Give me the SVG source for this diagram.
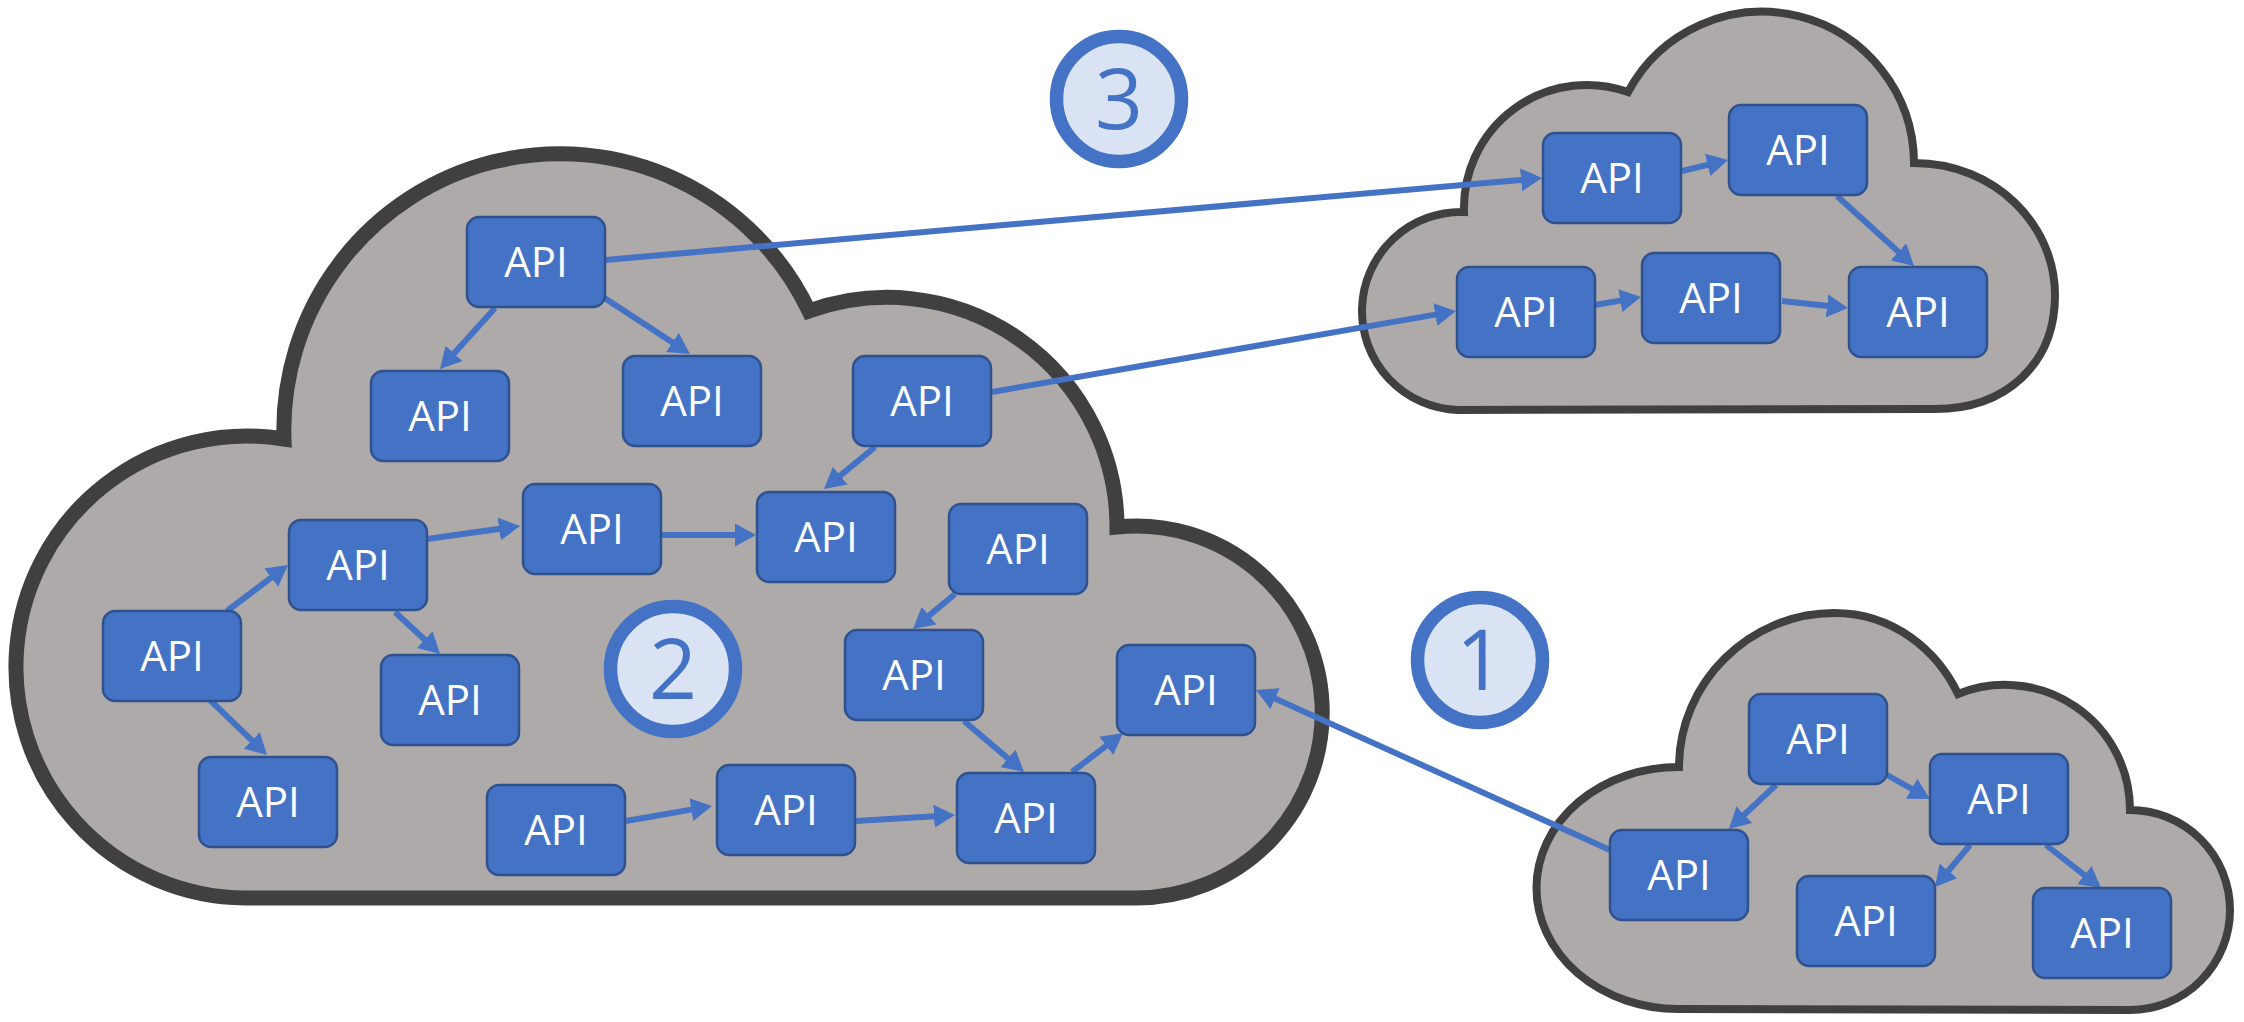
<svg xmlns="http://www.w3.org/2000/svg" width="2244" height="1022" viewBox="0 0 2244 1022">
<style>
.cloud{fill:#AEAAA9;stroke:#404040;stroke-linejoin:miter}
.big{stroke-width:15}
.small{stroke-width:8}
.node rect{fill:#4472C4;stroke:#2F528F;stroke-width:2.5}
.node text{fill:#FFFFFF;font-family:"Open Sans","Noto Sans","Liberation Sans",sans-serif;font-size:42px;text-anchor:middle}
.conn path{fill:none;stroke:#4472C4;stroke-width:6}
.badge circle{fill:#DAE3F3;stroke:#4472C4;stroke-width:13.5}
.badge text{fill:#4472C4;font-family:"Open Sans","Noto Sans","Liberation Sans",sans-serif;font-size:84px;text-anchor:middle}
</style>
<defs>
<marker id="arr" markerUnits="userSpaceOnUse" viewBox="0 0 21 23" refX="13" refY="11.5" markerWidth="21" markerHeight="23" orient="auto">
<path d="M0,0 L21,11.5 L0,23 z" fill="#4472C4"/>
</marker>
</defs>
<rect width="2244" height="1022" fill="#FFFFFF"/>
<g id="clouds">
<path id="cloud-main" class="cloud big" d="M245 898 A231 231 0 1 1 284 439 A276 276 0 0 1 809 311 A230 230 0 0 1 1117 527 A186 186 0 1 1 1135 898 Z"/>
<path id="cloud-top-right" class="cloud small" d="M1458 410 A99 99 0 0 1 1464 212 A123 123 0 0 1 1628 92 A152 152 0 0 1 1914 163 C1995 163 2055 225 2055 295 C2055 365 2005 409 1935 409 Z"/>
<path id="cloud-bottom-right" class="cloud small" d="M1678 1009 A142 121 0 0 1 1679 767 C1679 682 1750 613 1834 613 C1895 613 1938 652 1958 694 A125 125 0 0 1 2130 810 A100 100 0 0 1 2130 1010 Z"/>
</g>
<g id="connectors" class="conn">
<path d="M605 260 L1534 178.7" marker-end="url(#arr)"/>
<path d="M495 308 L445.4 363.1" marker-end="url(#arr)"/>
<path d="M603 297 L683.3 349.6" marker-end="url(#arr)"/>
<path d="M992 392 L1448.1 312.4" marker-end="url(#arr)"/>
<path d="M875 447 L830.2 483.9" marker-end="url(#arr)"/>
<path d="M661 535 L748 535" marker-end="url(#arr)"/>
<path d="M427 539 L512.1 527.1" marker-end="url(#arr)"/>
<path d="M395 612 L434.2 648.5" marker-end="url(#arr)"/>
<path d="M227 611 L281.6 569.8" marker-end="url(#arr)"/>
<path d="M210 700 L261.2 749.4" marker-end="url(#arr)"/>
<path d="M955 594 L919.1 623.9" marker-end="url(#arr)"/>
<path d="M964 721 L1017.9 766.8" marker-end="url(#arr)"/>
<path d="M1072 772 L1116.6 737.9" marker-end="url(#arr)"/>
<path d="M626 821 L704.1 807.4" marker-end="url(#arr)"/>
<path d="M856 821 L947 815.5" marker-end="url(#arr)"/>
<path d="M1610 850 L1263.3 693.3" marker-end="url(#arr)"/>
<path d="M1682 171 L1720.2 161.9" marker-end="url(#arr)"/>
<path d="M1837 196 L1908.1 260.6" marker-end="url(#arr)"/>
<path d="M1595 305 L1633.1 298.4" marker-end="url(#arr)"/>
<path d="M1782 301 L1840 307.2" marker-end="url(#arr)"/>
<path d="M1776 785 L1734.8 823.5" marker-end="url(#arr)"/>
<path d="M1887 775 L1923 795.1" marker-end="url(#arr)"/>
<path d="M1970 845 L1940.1 880.9" marker-end="url(#arr)"/>
<path d="M2046 845 L2094.7 883.1" marker-end="url(#arr)"/>
</g>
<g id="nodes">
<g id="api-a" class="node"><rect x="467" y="217" width="138" height="90" rx="12"/><text x="536" y="277">API</text></g>
<g id="api-b" class="node"><rect x="371" y="371" width="138" height="90" rx="12"/><text x="440" y="431">API</text></g>
<g id="api-c" class="node"><rect x="623" y="356" width="138" height="90" rx="12"/><text x="692" y="416">API</text></g>
<g id="api-d" class="node"><rect x="853" y="356" width="138" height="90" rx="12"/><text x="922" y="416">API</text></g>
<g id="api-e" class="node"><rect x="523" y="484" width="138" height="90" rx="12"/><text x="592" y="544">API</text></g>
<g id="api-f" class="node"><rect x="757" y="492" width="138" height="90" rx="12"/><text x="826" y="552">API</text></g>
<g id="api-g" class="node"><rect x="289" y="520" width="138" height="90" rx="12"/><text x="358" y="580">API</text></g>
<g id="api-h" class="node"><rect x="949" y="504" width="138" height="90" rx="12"/><text x="1018" y="564">API</text></g>
<g id="api-i" class="node"><rect x="103" y="611" width="138" height="90" rx="12"/><text x="172" y="671">API</text></g>
<g id="api-j" class="node"><rect x="381" y="655" width="138" height="90" rx="12"/><text x="450" y="715">API</text></g>
<g id="api-k" class="node"><rect x="845" y="630" width="138" height="90" rx="12"/><text x="914" y="690">API</text></g>
<g id="api-l" class="node"><rect x="1117" y="645" width="138" height="90" rx="12"/><text x="1186" y="705">API</text></g>
<g id="api-m" class="node"><rect x="199" y="757" width="138" height="90" rx="12"/><text x="268" y="817">API</text></g>
<g id="api-n" class="node"><rect x="487" y="785" width="138" height="90" rx="12"/><text x="556" y="845">API</text></g>
<g id="api-o" class="node"><rect x="717" y="765" width="138" height="90" rx="12"/><text x="786" y="825">API</text></g>
<g id="api-p" class="node"><rect x="957" y="773" width="138" height="90" rx="12"/><text x="1026" y="833">API</text></g>
<g id="api-q" class="node"><rect x="1543" y="133" width="138" height="90" rx="12"/><text x="1612" y="193">API</text></g>
<g id="api-r" class="node"><rect x="1729" y="105" width="138" height="90" rx="12"/><text x="1798" y="165">API</text></g>
<g id="api-s" class="node"><rect x="1457" y="267" width="138" height="90" rx="12"/><text x="1526" y="327">API</text></g>
<g id="api-t" class="node"><rect x="1642" y="253" width="138" height="90" rx="12"/><text x="1711" y="313">API</text></g>
<g id="api-u" class="node"><rect x="1849" y="267" width="138" height="90" rx="12"/><text x="1918" y="327">API</text></g>
<g id="api-v" class="node"><rect x="1749" y="694" width="138" height="90" rx="12"/><text x="1818" y="754">API</text></g>
<g id="api-w" class="node"><rect x="1930" y="754" width="138" height="90" rx="12"/><text x="1999" y="814">API</text></g>
<g id="api-x" class="node"><rect x="1610" y="830" width="138" height="90" rx="12"/><text x="1679" y="890">API</text></g>
<g id="api-y" class="node"><rect x="1797" y="876" width="138" height="90" rx="12"/><text x="1866" y="936">API</text></g>
<g id="api-z" class="node"><rect x="2033" y="888" width="138" height="90" rx="12"/><text x="2102" y="948">API</text></g>
</g>
<g id="badges">
<g id="badge-1" class="badge"><circle cx="1480" cy="660" r="62.5"/><text x="1480" y="690">1</text></g>
<g id="badge-2" class="badge"><circle cx="673" cy="669" r="62.5"/><text x="673" y="699">2</text></g>
<g id="badge-3" class="badge"><circle cx="1119" cy="99" r="62.5"/><text x="1119" y="129">3</text></g>
</g>
</svg>
